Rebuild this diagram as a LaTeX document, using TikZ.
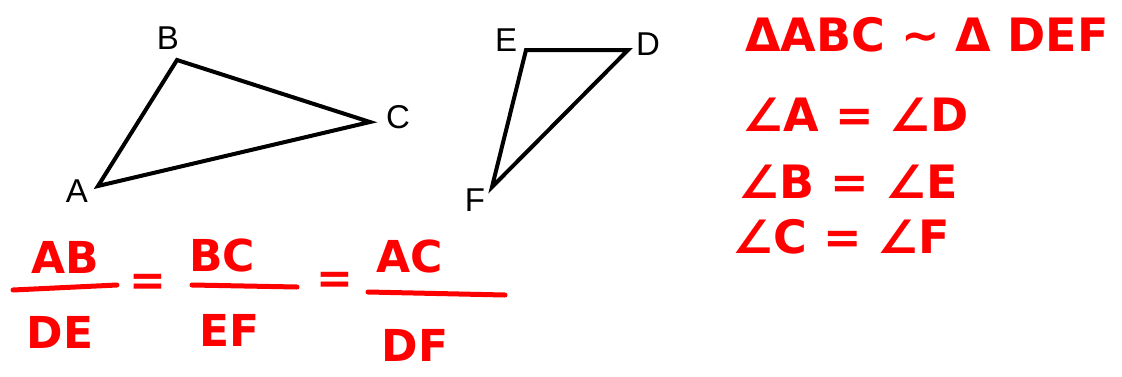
\documentclass[tikz,border=0pt]{standalone}
\usepackage{fontspec}
\usepackage{tikz}
\usepackage{xcolor}
\setmainfont{Liberation Sans}
\newfontfamily\handfont{DejaVu Sans}
\tikzset{
    vlabel/.style={inner sep=0pt, font=\fontsize{33}{36}\selectfont},
    redtext/.style={inner sep=0pt, text=red, font=\handfont\bfseries\fontsize{46}{52}\selectfont},
    redsmall/.style={inner sep=0pt, text=red, font=\handfont\bfseries\fontsize{44}{50}\selectfont},
    fracbar/.style={red, line width=5pt, line cap=round},
}

\begin{document}
\begin{tikzpicture}[x=1pt, y=-1pt]
        \useasboundingbox (0,0) rectangle (1122,376);

        % triangles
        \coordinate (A) at (98,186);
        \coordinate (B) at (177,60);
        \coordinate (C) at (370,122);
        \coordinate (E) at (526,50);
        \coordinate (D) at (628,50);
        \coordinate (F) at (492,187);
        \draw[line width=4pt, line join=miter] (A) -- (B) -- (C) -- cycle;
        \draw[line width=4pt, line join=miter] (E) -- (D) -- (F) -- cycle;

        \node (la) at ( 77,191) [vlabel] {A};
        \node (lb) at (168, 38) [vlabel] {B};
        \node (lc) at (398,117) [vlabel] {C};
        \node (le) at (506, 40) [vlabel] {E};
        \node (ld) at (648, 44) [vlabel] {D};
        \node (lf) at (475,200) [vlabel] {F};

        % similarity and angles
        \node (sim) at (927, 35) [redtext] {ΔABC ∼ Δ DEF};
        \node (ang1) at (742,115) [redtext, anchor=west] {∠A = ∠D};
        \node (ang2) at (738,182) [redtext, anchor=west] {∠B = ∠E};
        \node (ang3) at (732,237) [redtext, anchor=west] {∠C = ∠F};

        % ratios
        \node (ab) at ( 65,257) [redsmall] {AB};
        \node (de) at ( 60,332) [redsmall] {DE};
        \node (bc) at (222,255) [redsmall] {BC};
        \node (ef) at (230,330) [redsmall] {EF};
        \node (ac) at (410,256) [redsmall] {AC};
        \node (df) at (415,345) [redsmall] {DF};
        \node (eq1) at (148,285) [redsmall] {=};
        \node (eq2) at (335,283) [redsmall] {=};

        \coordinate (b1s) at ( 13,290);
        \coordinate (b1e) at (117,285);
        \coordinate (b2s) at (192,285);
        \coordinate (b2e) at (297,287);
        \coordinate (b3s) at (368,292);
        \coordinate (b3e) at (505,295);
        \draw[fracbar] (b1s) -- (b1e);
        \draw[fracbar] (b2s) -- (b2e);
        \draw[fracbar] (b3s) -- (b3e);
    \end{tikzpicture}
\end{document}
